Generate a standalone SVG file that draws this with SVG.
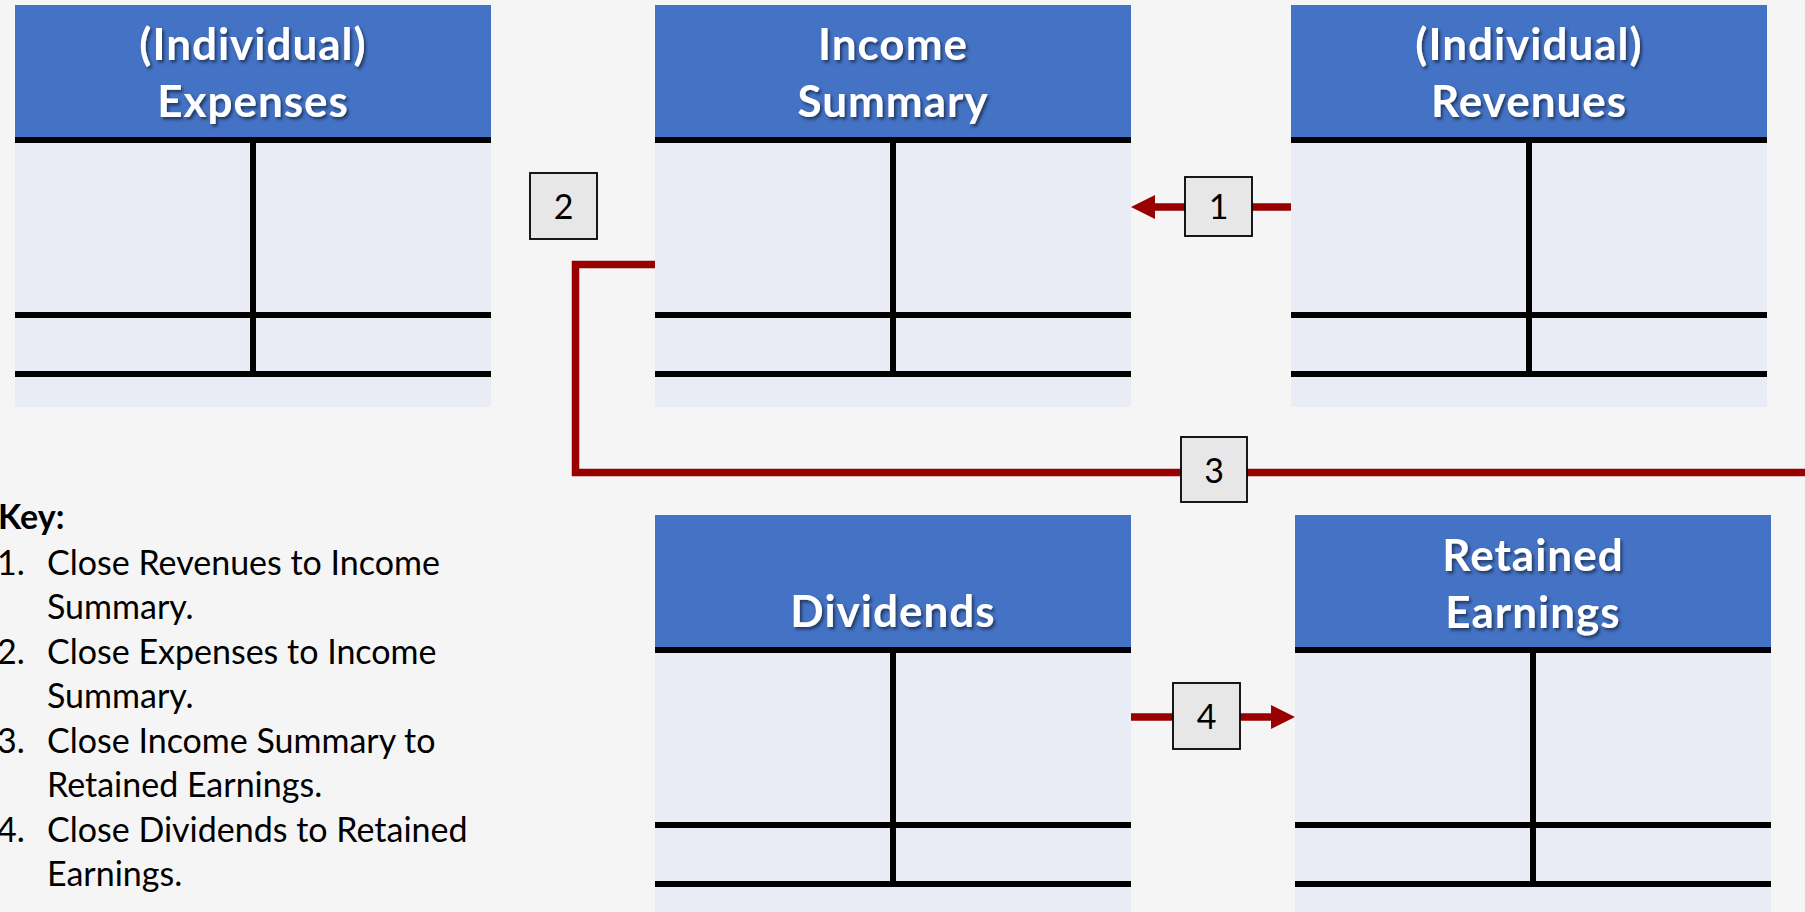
<svg xmlns="http://www.w3.org/2000/svg" width="1805" height="912" viewBox="0 0 1805 912">
  <style>
    .hdr { fill: #4472C4; }
    .body { fill: #E9EBF5; }
    .rule { stroke: #000; stroke-width: 6; fill: none; }
    .title { font-family: Lato, "Liberation Sans", sans-serif; font-weight: bold; font-size: 44px; letter-spacing: 1px; fill: #fff; text-anchor: middle; filter: url(#shadow); }
    .conn { stroke: #990000; stroke-width: 7.5; fill: none; }
    .head { fill: #990000; }
    .tag rect { fill: #E7E7E7; stroke: #000; stroke-width: 1.8; }
    .tag text { font-family: Lato, "Liberation Sans", sans-serif; font-size: 34px; fill: #000; text-anchor: middle; }
    .key { font-family: Lato, "Liberation Sans", sans-serif; font-size: 34px; fill: #000; }
  </style>
  <defs>
    <filter id="shadow" x="-10%" y="-20%" width="130%" height="150%">
      <feDropShadow dx="2" dy="2.5" stdDeviation="1.4" flood-color="#000" flood-opacity="0.5"/>
    </filter>
    <!-- one T-account: header, body, top rule, subtotal rule, total rule, divider -->
    <g id="taccount">
      <rect class="body" x="0" y="132" width="476" height="270"/>
      <rect class="hdr" x="0" y="0" width="476" height="132"/>
      <line class="rule" x1="0" y1="135" x2="476" y2="135"/>
      <line class="rule" x1="0" y1="310" x2="476" y2="310"/>
      <line class="rule" x1="0" y1="369" x2="476" y2="369"/>
      <line class="rule" x1="238" y1="132" x2="238" y2="372"/>
    </g>
  </defs>

  <rect x="0" y="0" width="1805" height="912" fill="#F5F5F5"/>

  <g id="expenses">
    <use href="#taccount" x="15" y="5"/>
    <text class="title" x="253" y="60">(Individual)</text>
    <text class="title" x="253" y="117">Expenses</text>
  </g>

  <g id="income-summary">
    <use href="#taccount" x="655" y="5"/>
    <text class="title" x="893" y="60">Income</text>
    <text class="title" x="893" y="117">Summary</text>
  </g>

  <g id="revenues">
    <use href="#taccount" x="1291" y="5"/>
    <text class="title" x="1529" y="60">(Individual)</text>
    <text class="title" x="1529" y="117">Revenues</text>
  </g>

  <g id="dividends">
    <use href="#taccount" x="655" y="515"/>
    <text class="title" x="893" y="627">Dividends</text>
  </g>

  <g id="retained-earnings">
    <use href="#taccount" x="1295" y="515"/>
    <text class="title" x="1533" y="571">Retained</text>
    <text class="title" x="1533" y="628">Earnings</text>
  </g>

  <g id="connectors">
    <!-- 1: revenues into income summary -->
    <line class="conn" x1="1291" y1="207" x2="1152" y2="207"/>
    <polygon class="head" points="1131,207 1155,195 1155,219"/>
    <!-- 3: income summary out toward retained earnings -->
    <path class="conn" d="M655,264.5 H575.5 V472.5 H1810"/>
    <!-- 4: dividends into retained earnings -->
    <line class="conn" x1="1131" y1="717" x2="1274" y2="717"/>
    <polygon class="head" points="1295,717 1271,705 1271,729"/>

    <g class="tag" id="tag1">
      <rect x="1185" y="177" width="67" height="59"/>
      <text x="1218.5" y="219">1</text>
    </g>
    <g class="tag" id="tag2">
      <rect x="530" y="173" width="67" height="66"/>
      <text x="563.5" y="219">2</text>
    </g>
    <g class="tag" id="tag3">
      <rect x="1181" y="437" width="66" height="65"/>
      <text x="1214" y="483">3</text>
    </g>
    <g class="tag" id="tag4">
      <rect x="1173" y="683" width="67" height="66"/>
      <text x="1206.5" y="729">4</text>
    </g>
  </g>

  <g id="key" class="key">
    <text x="-2" y="529" font-weight="bold">Key:</text>
    <text x="-3" y="575">1.</text>
    <text x="47" y="575">Close Revenues to Income</text>
    <text x="47" y="619">Summary.</text>
    <text x="-3" y="664">2.</text>
    <text x="47" y="664">Close Expenses to Income</text>
    <text x="47" y="708">Summary.</text>
    <text x="-3" y="753">3.</text>
    <text x="47" y="753">Close Income Summary to</text>
    <text x="47" y="797">Retained Earnings.</text>
    <text x="-3" y="842">4.</text>
    <text x="47" y="842">Close Dividends to Retained</text>
    <text x="47" y="886">Earnings.</text>
  </g>
</svg>
